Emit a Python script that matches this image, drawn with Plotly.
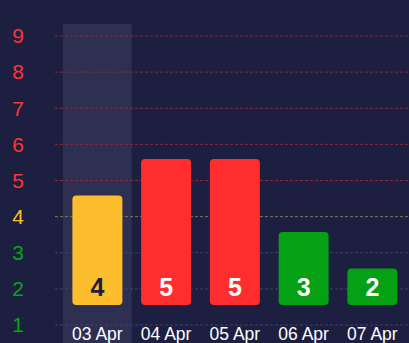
import plotly.graph_objects as go

# ---- data ----
categories = ["03 Apr", "04 Apr", "05 Apr", "06 Apr", "07 Apr"]
values = [4, 5, 5, 3, 2]
bar_colors = ["#fdbe2e", "#ff2d2d", "#ff2d2d", "#05a014", "#05a014"]
text_colors = ["#1d1f41", "#ffffff", "#ffffff", "#ffffff", "#ffffff"]
levels = [1, 2, 3, 4, 5, 6, 7, 8, 9]
level_label_colors = ["#09a316", "#09a316", "#09a316", "#fdbe2e",
                      "#ff3333", "#ff3333", "#ff3333", "#ff3333", "#ff3333"]
level_line_colors = ["#3c4170", "#3c4170", "#3c4170", "#857a4c",
                     "#8c2838", "#8c2838", "#8c2838", "#8c2838", "#8c2838"]
highlight_category = 0
bar_base = 1

BG = "#1d1f41"
FONT = "Arial, Liberation Sans, sans-serif"

y_range = [0.945, 9.332]
bar_range = [0.397, 8.699]

fig = go.Figure()

fig.add_trace(go.Bar(
    x=categories,
    y=[v - bar_base for v in values],
    base=bar_base,
    text=values,
    texttemplate="%{text}",
    textposition="inside",
    insidetextanchor="start",
    textangle=0,
    constraintext="none",
    textfont=dict(family=FONT, size=25, color=text_colors, weight="bold"),
    marker=dict(color=bar_colors, cornerradius=4, line=dict(width=0)),
    width=0.727,
    yaxis="y2",
    hoverinfo="skip",
))

shapes = []
# highlight band behind first category
shapes.append(dict(
    type="rect", xref="x", yref="paper",
    x0=highlight_category - 0.5, x1=highlight_category + 0.5,
    y0=-0.2, y1=1,
    fillcolor="#2e3052", line=dict(width=0), layer="below",
))
for lv, c in zip(levels, level_line_colors):
    shapes.append(dict(
        type="line", xref="paper", yref="y",
        x0=0, x1=1, y0=lv, y1=lv,
        line=dict(color=c, width=1, dash="3px,2px"), layer="below",
    ))

fig.update_layout(
    width=409, height=343,
    margin=dict(l=55, r=0, t=24, b=16),
    paper_bgcolor=BG, plot_bgcolor=BG,
    showlegend=False,
    shapes=shapes,
    xaxis=dict(
        type="category",
        range=[-0.6164, 4.5326],
        automargin=False,
        showgrid=False, zeroline=False, showline=False,
        ticks="",
        tickfont=dict(family=FONT, size=17.5, color="#ffffff"),
        ticklabelstandoff=-6,
    ),
    yaxis=dict(
        range=y_range,
        automargin=False,
        showgrid=False, zeroline=False, showline=False,
        ticks="",
        tickmode="array",
        tickvals=levels,
        ticktext=[f'<span style="color:{c}">{lv}</span>'
                  for lv, c in zip(levels, level_label_colors)],
        tickfont=dict(family=FONT, size=21),
        ticklabelstandoff=30,
    ),
    yaxis2=dict(
        range=bar_range,
        overlaying="y",
        automargin=False,
        visible=False,
    ),
)

fig.write_html("out.html")
